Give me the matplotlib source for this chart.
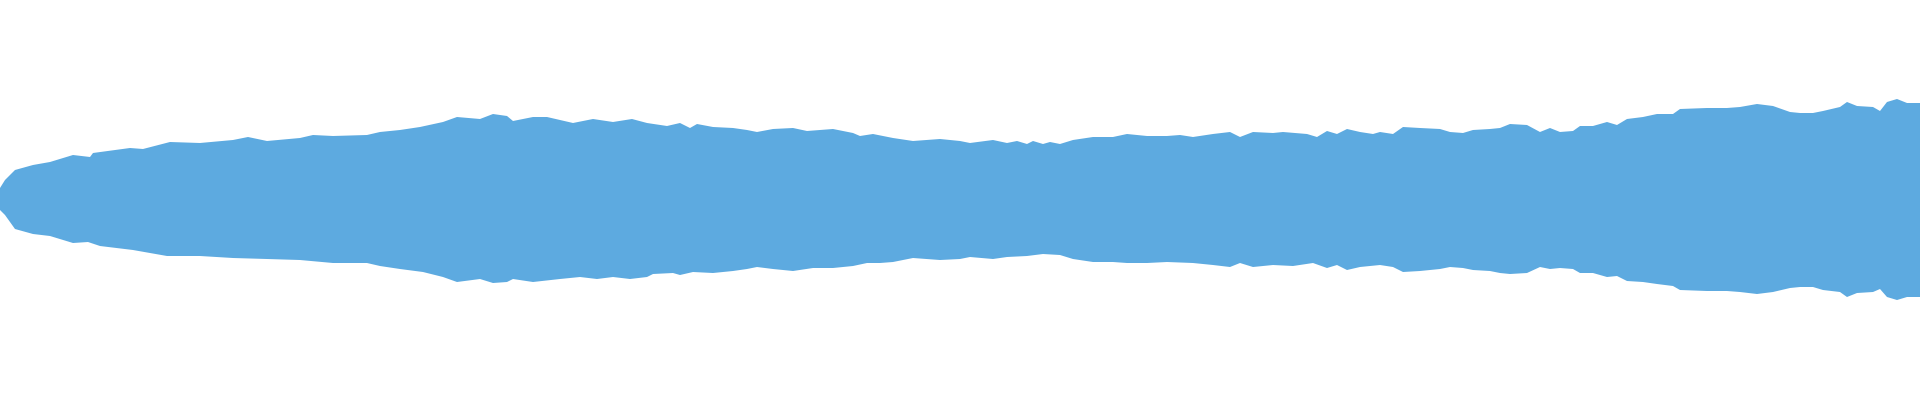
import numpy as np
import matplotlib
matplotlib.use('Agg')
import matplotlib.pyplot as plt

WAVE_COLOR = '#5DAAE0'

# upper envelope of the waveform: position along the track and peak height
upper_pos = [0, 5, 15, 33, 50, 73, 90, 93, 130, 143, 170, 200, 233, 248, 267, 300, 313, 333, 367, 380,
             400, 420, 443, 457, 480, 493, 507, 513, 533, 547, 560, 573, 593, 613, 632, 647, 667, 680, 690,
             697, 713, 733, 747, 757, 773, 793, 807, 833, 853, 860, 873, 893, 913, 940, 960, 970, 993, 1007,
             1017, 1027, 1033, 1043, 1050, 1060, 1073, 1093, 1113, 1127, 1147, 1167, 1180, 1193, 1213, 1230,
             1240, 1253, 1273, 1283, 1307, 1317, 1327, 1337, 1347, 1360, 1373, 1380, 1393, 1403, 1420, 1440,
             1450, 1463, 1473, 1490, 1500, 1510, 1527, 1540, 1550, 1560, 1573, 1580, 1593, 1607, 1617, 1627,
             1643, 1657, 1673, 1680, 1707, 1727, 1740, 1757, 1773, 1790, 1800, 1813, 1823, 1840, 1847, 1857,
             1873, 1880, 1887, 1897, 1907, 1920]
upper_peak = [11, 19, 29, 34, 37, 44, 42, 46, 51, 50, 57, 56, 59, 62, 58, 61, 64, 63, 64, 67,
              69, 72, 77, 82, 80, 85, 83, 78, 82, 82, 79, 76, 80, 77, 80, 76, 73, 76, 71,
              75, 72, 71, 69, 67, 70, 71, 68, 70, 66, 63, 65, 61, 58, 60, 58, 56, 59, 56,
              58, 55, 58, 55, 57, 55, 59, 62, 62, 65, 63, 63, 64, 62, 65, 67,
              62, 67, 66, 67, 65, 62, 68, 65, 70, 67, 65, 67, 65, 72, 71, 70,
              67, 66, 69, 70, 71, 75, 74, 67, 71, 67, 68, 73, 73, 77, 74, 80,
              82, 85, 85, 90, 91, 91, 92, 95, 93, 87, 86, 86, 88, 92, 97, 93,
              92, 88, 97, 100, 96, 96]

# lower envelope of the waveform
lower_pos = [0, 5, 15, 33, 50, 73, 88, 100, 133, 167, 200, 233, 267, 300, 333, 367, 380, 400, 423, 443,
             457, 480, 493, 507, 513, 533, 560, 580, 597, 613, 630, 647, 653, 673, 680, 693, 713, 733, 747,
             757, 773, 793, 813, 833, 853, 867, 880, 893, 913, 940, 960, 970, 993, 1007, 1027, 1043, 1060,
             1073, 1093, 1113, 1127, 1147, 1167, 1193, 1213, 1230, 1240, 1253, 1273, 1293, 1313, 1327, 1337,
             1347, 1360, 1380, 1393, 1403, 1420, 1440, 1450, 1463, 1473, 1490, 1500, 1510, 1527, 1540, 1550,
             1560, 1573, 1580, 1593, 1607, 1617, 1627, 1643, 1657, 1673, 1680, 1707, 1727, 1740, 1757, 1773,
             1790, 1800, 1813, 1823, 1840, 1847, 1857, 1873, 1880, 1887, 1897, 1907, 1920]
lower_peak = [11, 16, 30, 35, 37, 44, 43, 47, 51, 57, 57, 59, 60, 61, 64, 64, 67, 70, 73, 78,
              83, 80, 84, 83, 80, 83, 80, 78, 80, 78, 80, 78, 75, 74, 76, 73, 74, 72, 70,
              68, 70, 72, 69, 69, 67, 64, 64, 63, 59, 61, 60, 58, 60, 58, 57, 55, 56,
              60, 63, 63, 64, 64, 63, 64, 66, 68, 64, 68, 66, 67, 64, 69, 66,
              71, 68, 66, 68, 73, 72, 70, 68, 69, 71, 72, 74, 75, 74, 68, 70,
              69, 70, 74, 74, 78, 77, 82, 83, 85, 87, 91, 92, 92, 93, 95, 93,
              89, 88, 88, 91, 93, 98, 94, 93, 90, 98, 101, 98, 98]

upper_pos = np.array(upper_pos, float)
upper_peak = np.array(upper_peak, float)
lower_pos = np.array(lower_pos, float)
lower_peak = np.array(lower_peak, float)

fig = plt.figure(figsize=(19.2, 4), dpi=100)
ax = fig.add_axes([0, 0, 1, 1])

# waveform body: upper edge out, lower edge back
poly_x = np.concatenate([upper_pos, lower_pos[::-1]])
poly_y = np.concatenate([upper_peak, -lower_peak[::-1]])
ax.fill(poly_x, poly_y, facecolor=WAVE_COLOR, linewidth=0)

ax.set_xlim(0, 1920)
ax.set_ylim(-201, 199)
ax.axis('off')

plt.savefig('out.png', dpi=100, facecolor='white')
